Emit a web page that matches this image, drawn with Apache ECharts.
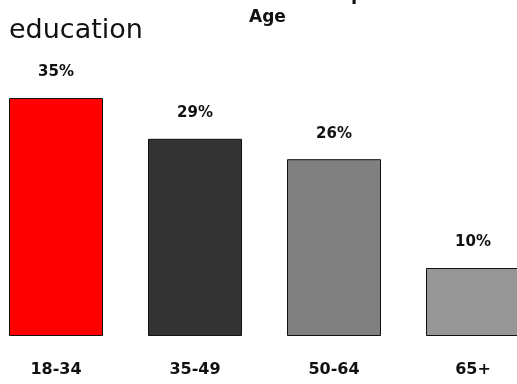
<!DOCTYPE html>
<html>
<head>
<meta charset="utf-8">
<script src="https://cdn.jsdelivr.net/npm/echarts@6/dist/echarts.min.js"></script>
<style>
  html, body { margin: 0; padding: 0; background: #fff; overflow: hidden; }
  body { position: relative; width: 517px; height: 384px; }
  #chart { position: absolute; left: -14px; top: 0; width: 570px; height: 384px; }
</style>
</head>
<body>
<div id="chart"></div>
<script>
const categories = ['18-34', '35-49', '50-64', '65+']
const values = [35, 29, 26, 10]
const barColors = ['#ff0000', '#333333', '#808080', '#969696']

// container is shifted 14px to the left so the first bar can start near the edge
const shift = 14
const chart = echarts.init(document.getElementById('chart'))
chart.setOption({
  animation: false,
  textStyle: { fontFamily: 'DejaVu Sans' },
  title: [
    {
      text: 'education',
      left: 4 + shift,
      top: 12,
      textStyle: { fontSize: 27, fontWeight: 'normal', color: '#111' }
    },
    {
      text: 'Age',
      left: 244 + shift,
      top: 4,
      textStyle: { fontSize: 17, fontWeight: 'bold', color: '#111' }
    },
    {
      text: 'p',
      left: 346 + shift,
      top: -19,
      textStyle: { fontSize: 18, fontWeight: 'bold', color: '#111' }
    }
  ],
  grid: {
    left: 0.5,
    width: 556,
    top: 98,
    bottom: 48,
    containLabel: false
  },
  xAxis: {
    type: 'category',
    data: categories,
    axisLine: { show: false },
    axisTick: { show: false },
    axisLabel: {
      margin: 26,
      fontSize: 16,
      fontWeight: 'bold',
      color: '#111'
    }
  },
  yAxis: {
    type: 'value',
    min: 0,
    max: 35,
    show: false,
    splitLine: { show: false }
  },
  series: [
    {
      type: 'bar',
      barWidth: 94,
      data: values.map((v, i) => ({
        value: v,
        itemStyle: { color: barColors[i] }
      })),
      itemStyle: {
        borderColor: '#111',
        borderWidth: 1
      },
      label: {
        show: true,
        position: 'top',
        distance: 18,
        formatter: '{c}%',
        fontSize: 15,
        fontWeight: 'bold',
        color: '#111'
      }
    }
  ]
})
</script>
</body>
</html>
